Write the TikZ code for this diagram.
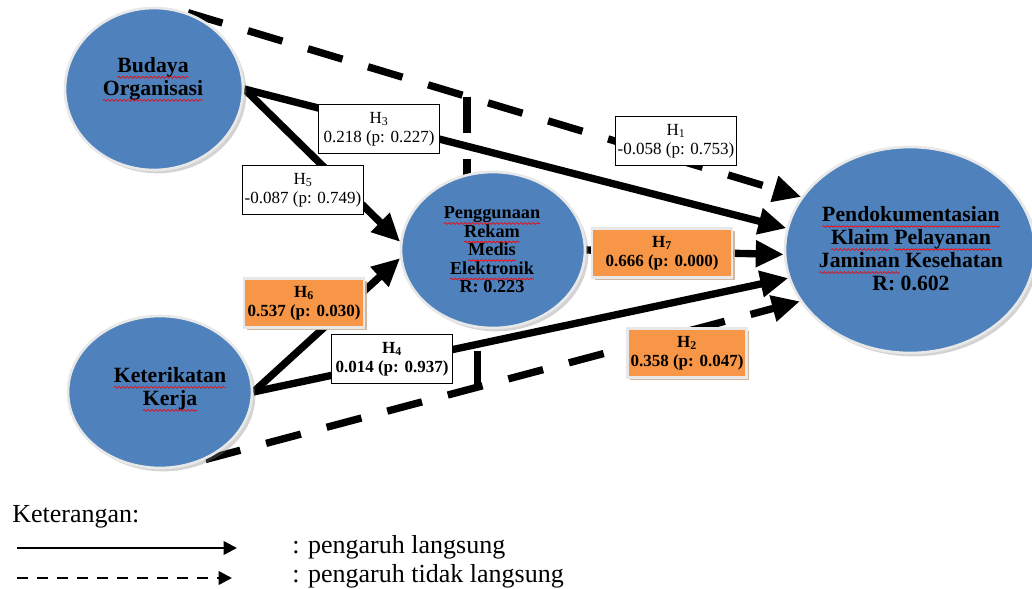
\documentclass[tikz,border=0pt]{standalone}
\usepackage{fontspec}
\setmainfont{Liberation Serif}
\usetikzlibrary{shapes.geometric,arrows.meta,shadows,calc,decorations.pathmorphing}
\newsavebox\rwbox
\newlength\rwlen
\newcommand\rw[1]{\sbox\rwbox{#1}\setlength\rwlen{\wd\rwbox}\rlap{\usebox\rwbox}\tikz[baseline=0pt,x=1pt,y=1pt]{\useasboundingbox (0pt,0pt) rectangle (\rwlen,0.1pt);\draw[red,line width=0.5pt,decorate,decoration={snake,amplitude=0.7pt,segment length=3pt}] (0pt,-3.5pt) -- (\rwlen,-3.5pt);}}
\definecolor{blu}{RGB}{79,129,189}
\definecolor{rimgray}{RGB}{232,232,232}
\definecolor{orng}{RGB}{247,150,70}
\definecolor{tanshadow}{RGB}{205,175,150}
\pgfdeclarelayer{bg}
\pgfsetlayers{bg,main}
\begin{document}
\begin{tikzpicture}[x=0.75pt,y=-0.75pt,
  latent/.style={ellipse, fill=blu, draw=rimgray, line width=2pt, inner sep=0pt,
    drop shadow={shadow xshift=2.5pt,shadow yshift=-2.5pt,opacity=0.35}},
  vtext/.style={font=\bfseries\fontsize{16.3}{17.3}\selectfont, align=center, text=black, inner sep=0pt},
  wlab/.style={draw=black, line width=0.6pt, fill=white, align=center, inner sep=1pt,
    minimum width=91pt, minimum height=37pt, font=\fontsize{12.75}{14.3}\selectfont},
  olab/.style={fill=orng, draw=rimgray, line width=2pt, align=center, inner sep=1pt,
    minimum height=37pt, font=\bfseries\fontsize{12.75}{14.3}\selectfont,
    drop shadow={shadow xshift=2pt,shadow yshift=-2pt,fill=tanshadow,opacity=0.9}},
  direct/.style={line width=5.5pt, -{Triangle[length=21pt,width=19pt]}},
  indirect/.style={direct, dash pattern=on 27pt off 20pt},
  indline/.style={line width=5.5pt, dash pattern=on 27pt off 20pt},
  legtext/.style={anchor=base west, inner sep=0pt, font=\fontsize{19.5}{21}\selectfont},
  legline/.style={line width=1.9pt, -{Triangle[length=10pt,width=10pt]}},
]
\useasboundingbox (0,0) rectangle (1032,589);

% latent variables
\node[latent, minimum width=133.5pt, minimum height=121.5pt] (bo) at (154,89) {};
\node[latent, minimum width=138pt, minimum height=117pt] (rme) at (493,250) {};
\node[latent, minimum width=187.5pt, minimum height=154.5pt] (pk) at (910,250) {};
\node[latent, minimum width=138pt, minimum height=114pt] (kk) at (160,392) {};

\node[vtext] (bot) at (153,79) {\rw{Budaya}\\\rw{Organisasi}};
\node[vtext, font=\bfseries\fontsize{13.7}{13.9}\selectfont] (rmet) at (492,250)
  {\rw{Penggunaan}\\\rw{Rekam}\\\rw{Medis}\\\rw{Elektronik}\\R: 0.223};
\node[vtext] (pkt) at (911,249)
  {\rw{Pendokumentasian}\\\rw{Klaim} \rw{Pelayanan}\\\rw{Jaminan} Kesehatan\\R: 0.602};
\node[vtext] (kkt) at (170,389) {\rw{Keterikatan}\\\rw{Kerja}};

% connectors
\begin{pgfonlayer}{bg}
\draw[direct] (bo.east) -- (pk.170);
\draw[direct] (bo.east) -- (rme.175);
\draw[direct] (kk.east) -- (rme.185);
\draw[direct] (kk.east) -- (pk.193);
\draw[direct] (rme.east) -- (pk.182);
\draw[indirect] (bo.66) -- (pk.154);
\draw[indirect] (kk.-56) -- (pk.205);
\coordinate (c1) at ($(bo.66)!0.455!(pk.154)$);
\coordinate (c2) at ($(kk.-56)!0.458!(pk.205)$);
\draw[indline] (c1) -- (c1 |- rme.center);
\draw[indline] (c2) -- (c2 |- rme.center);
\end{pgfonlayer}

% path labels
\node[wlab] (l3) at (379,129) {H\textsubscript{3}\\0.218 (p: 0.227)};
\node[wlab] (l5) at (303,190) {H\textsubscript{5}\\-0.087 (p: 0.749)};
\node[wlab] (l1) at (676,141) {H\textsubscript{1}\\-0.058 (p: 0.753)};
\node[wlab, font=\bfseries\fontsize{12.75}{14.3}\selectfont] (l4) at (392,359) {H\textsubscript{4}\\0.014 (p: 0.937)};
\node[olab, minimum width=105pt] (l7) at (662,253) {H\textsubscript{7}\\0.666 (p: 0.000)};
\node[olab, minimum width=89pt] (l2) at (687,353) {H\textsubscript{2}\\0.358 (p: 0.047)};
\node[olab, minimum width=90pt] (l6) at (304,303) {H\textsubscript{6}\\0.537 (p: 0.030)};

% legend
\node[legtext] (ket) at (12,522) {Keterangan:};
\coordinate (s1) at (17,548);
\coordinate (e1) at (237,548);
\coordinate (s2) at (17,578);
\coordinate (e2) at (232,578);
\draw[legline] (s1) -- (e1);
\draw[legline, dash pattern=on 8.25pt off 6.75pt] (s2) -- (e2);
\node[legtext] (t1) at (292,553) {: pengaruh langsung};
\node[legtext] (t2) at (292,582) {: pengaruh tidak langsung};
\end{tikzpicture}
\end{document}
